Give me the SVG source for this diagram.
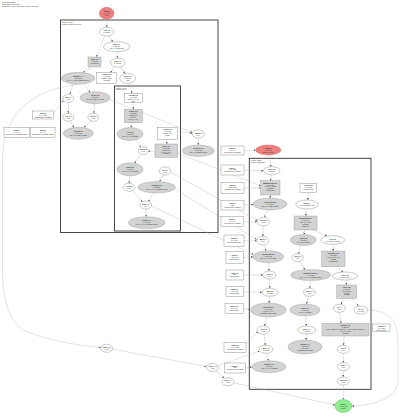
<svg xmlns="http://www.w3.org/2000/svg" width="400" height="418" viewBox="0 0 400 418">
<style>
text{font-family:"Liberation Sans",Arial,sans-serif;font-size:1.9px;fill:#333;text-anchor:middle}
.h{text-anchor:start}
.b{font-weight:bold}
.w{fill:#fff;stroke:#666;stroke-width:0.35}
.g{fill:#d3d3d3;stroke:#888;stroke-width:0.35}
.r{fill:#f08080;stroke:#b55;stroke-width:0.4}
.gn{fill:#90ee90;stroke:#4a4;stroke-width:0.4}
.cl{fill:none;stroke:#333;stroke-width:0.9}
#edges path{fill:none;stroke:#aaa;stroke-width:0.35;marker-end:url(#ah)}
</style>
<defs>
<marker id="ah" markerUnits="userSpaceOnUse" markerWidth="2" markerHeight="2" refX="2" refY="1" orient="auto"><path d="M0,0 L2,1 L0,2 z" fill="#555"/></marker>
</defs>
<rect width="400" height="418" fill="#fff"/>
<g id="header">
<text class="h" x="2" y="3">Execution graph</text>
<text class="h" x="2" y="5">Generated by profiler</text>
<text class="h" x="2" y="7">Total time: 12.34 ms, peak memory 1.2 MB</text>
</g>
<g id="clusters">
<rect class="cl" x="60.5" y="20" width="157.5" height="212.5"/>
<text class="h" x="62" y="22.8">cluster_main</text>
<text class="h" x="62" y="24.5">scope: main/loop_body</text>
<rect class="cl" x="114.5" y="86" width="66" height="145"/>
<text class="h" x="116" y="88.5">cluster_inner</text>
<text class="h" x="116" y="90.2">scope: inner</text>
<rect class="cl" x="249.3" y="158.3" width="121.7" height="231"/>
<text class="h" x="250.8" y="160.8">cluster_grad</text>
<text class="h" x="250.8" y="162.5">scope: gradients</text>
</g>
<g id="edges">
<path d="M106.7,19.3 L106.7,27.4"/>
<path d="M108.5,35.9 L113,41.8"/>
<path d="M104.5,35.8 L96.5,57"/>
<path d="M117,51.7 L117.5,58.2"/>
<path d="M92,67 L83,72.5"/>
<path d="M114.5,66.7 L110.5,72.7"/>
<path d="M120.5,66.8 L125,73.4"/>
<path d="M129.5,83.2 L132,93.3"/>
<path d="M73,84 L70,94.3"/>
<path d="M84,84 L90,92"/>
<path d="M53.3,113 L63.5,100.5"/>
<path d="M68.3,102.3 L68.3,113.3"/>
<path d="M94.5,103.7 L93.8,113.3"/>
<path d="M70,121.2 L74,127.5"/>
<path d="M91,121 L84,127.6"/>
<path d="M109.5,99.5 L192.5,132.5"/>
<path d="M198.3,138.3 L198.3,145"/>
<path d="M133.3,102.7 L133.3,109.3"/>
<path d="M132,122.7 L131,127.5"/>
<path d="M136,139.7 L140.5,147.3"/>
<path d="M167.7,139.3 L166.5,144"/>
<path d="M155,152 L148.3,151"/>
<path d="M140.8,154.3 L134.5,163.2"/>
<path d="M129.8,175.8 L129.2,183.3"/>
<path d="M163.5,175 L159.5,181.6"/>
<path d="M132.5,190.5 L142.5,201.8"/>
<path d="M153.5,193 L148.5,201.5"/>
<path d="M145.9,209 L146.3,216.7"/>
<path d="M177.7,131 L192.3,133.5"/>
<path d="M177.7,153 L260.7,186"/>
<path d="M171,172.5 L257.3,220.5"/>
<path d="M175,189 L256.7,239.5"/>
<path d="M151.7,206 L253.5,254.5"/>
<path d="M269,155 L271,166.7"/>
<path d="M271.2,174.7 L270.5,180.7"/>
<path d="M270.3,195 L270.2,198"/>
<path d="M308.3,192.7 L307.8,200"/>
<path d="M306.5,209 L305.8,216"/>
<path d="M267.5,210 L264.5,217.4"/>
<path d="M263.2,226 L262.9,236.4"/>
<path d="M264,245 L266,250.7"/>
<path d="M304.8,230 L304,234.5"/>
<path d="M313,230 L327,236"/>
<path d="M300.5,245.5 L298.5,253.7"/>
<path d="M333,244.3 L333.3,251"/>
<path d="M300,261.5 L305,269.7"/>
<path d="M337,266.7 L343,272"/>
<path d="M268.6,262.7 L269,271"/>
<path d="M310.4,280.5 L309.8,288.3"/>
<path d="M346,280 L346.5,285"/>
<path d="M269.5,279 L269.8,288.3"/>
<path d="M269.7,296.3 L269,303"/>
<path d="M308.5,296.3 L306.5,304"/>
<path d="M344,298.3 L341,304.3"/>
<path d="M352,298.3 L358.5,306"/>
<path d="M266.5,317 L264.5,326"/>
<path d="M305.5,316 L306.3,326"/>
<path d="M264,334 L265.3,345.3"/>
<path d="M306.5,334 L306,340"/>
<path d="M339.5,312.3 L341,323.3"/>
<path d="M344,336 L343.5,345.3"/>
<path d="M267,353.3 L268.3,360.7"/>
<path d="M343.3,353.3 L343.3,362.7"/>
<path d="M343.3,370.7 L343.3,377"/>
<path d="M343.3,385 L343.3,399.5"/>
<path d="M244,150.5 L255.8,150.2"/>
<path d="M244,170 L263.4,170.7"/>
<path d="M244,188 L260.7,188"/>
<path d="M244,205 L253.3,204.5"/>
<path d="M243.5,221.7 L257.3,221.7"/>
<path d="M244,240.8 L256.7,240.7"/>
<path d="M243.3,257.5 L253,256.9"/>
<path d="M243.3,275 L262.8,275"/>
<path d="M243.3,291.7 L262,292.3"/>
<path d="M243.3,308.3 L250.5,309.5"/>
<path d="M246,344 L258,331.5"/>
<path d="M218,365.5 L259.5,351"/>
<path d="M245.5,368 L252,367"/>
<path d="M76.7,84.5 C35,90 3,110 2.5,160 L2.5,270 C2.5,300 10,322 23,330 C45,340 75,345 100.7,347.5"/>
<path d="M112.7,349.2 L206.5,366.5"/>
<path d="M216,370.5 L224,378"/>
<path d="M234,383 L335,405"/>
<path d="M367.7,310 C392,311 398,322 398,345 L398,380 C398,398 375,405 352,406"/>
</g>
<g id="start"><ellipse class="r" cx="106.7" cy="13.3" rx="7.3" ry="6"/><text class="b" x="106.7" y="12">Start 0</text><text x="106.7" y="13.9">0.00 ms</text><text x="106.7" y="15.8">input</text></g>
<g id="a1"><ellipse class="w" cx="106.7" cy="31.7" rx="7.3" ry="4.3"/><text class="b" x="106.7" y="31.3">Add 1.0</text><text x="106.7" y="33.3">0.12 ms</text></g>
<g id="a2"><ellipse class="w" cx="116.7" cy="46.7" rx="13.3" ry="5"/><text class="b" x="116.7" y="45.4">Mul 1.1</text><text x="116.7" y="47.3">0.21 ms</text><text x="116.7" y="49.2">out: 1 x 128 float</text></g>
<g id="a3"><rect class="g" x="88" y="57" width="13" height="10"/><text class="b" x="94.5" y="59.8">Split 1.2</text><text x="94.5" y="61.7">0.05 ms</text><text x="94.5" y="63.6">2 outputs</text></g>
<g id="a4"><ellipse class="w" cx="117.7" cy="62.7" rx="7.3" ry="4.5"/><text class="b" x="117.7" y="62.3">Sub 1.3</text><text x="117.7" y="64.3">0.08 ms</text></g>
<g id="a5"><ellipse class="g" cx="78" cy="78.3" rx="16.7" ry="6"/><text class="b" x="78" y="77">MatMul 1.4</text><text x="78" y="78.9">1.24 ms</text><text x="78" y="80.8">out: 64 x 128 float32 tensor</text></g>
<g id="a6"><rect class="w" x="96.7" y="72.7" width="20" height="10.6"/><text class="b" x="106.7" y="75.3">Const 1.5</text><text x="106.7" y="77.2">0.01 ms</text><text x="106.7" y="79.1">shape [128]</text><text x="106.7" y="81">weights</text></g>
<g id="a7"><ellipse class="w" cx="127.7" cy="78.3" rx="8" ry="5"/><text class="b" x="127.7" y="77.4">Relu 1.6</text><text x="127.7" y="79.3">0.03 ms</text><text x="127.7" y="81.2">f32</text></g>
<g id="a8"><ellipse class="w" cx="68.3" cy="98.3" rx="5.5" ry="4"/><text class="b" x="68.3" y="97.9">Exp 1.7</text><text x="68.3" y="99.9">0.02</text></g>
<g id="a9"><ellipse class="g" cx="95" cy="97.7" rx="15" ry="6"/><text class="b" x="95" y="96.4">Conv 1.8</text><text x="95" y="98.3">0.87 ms</text><text x="95" y="100.2">out: 32 x 32 x 16 float</text></g>
<g id="a10"><ellipse class="w" cx="68.3" cy="117.3" rx="5.5" ry="4"/><text class="b" x="68.3" y="116.9">Log 1.9</text><text x="68.3" y="118.9">0.02</text></g>
<g id="a11"><ellipse class="w" cx="93.3" cy="117.3" rx="5.5" ry="4"/><text class="b" x="93.3" y="116.9">Neg 2.0</text><text x="93.3" y="118.9">0.01</text></g>
<g id="a12"><ellipse class="g" cx="78.3" cy="133.3" rx="15" ry="6"/><text class="b" x="78.3" y="132">Concat 2.1</text><text x="78.3" y="133.9">0.34 ms</text><text x="78.3" y="135.8">out: 64 x 256 float32</text></g>
<g id="a13"><ellipse class="w" cx="198.3" cy="134" rx="6" ry="4.3"/><text class="b" x="198.3" y="133.6">Max 2.2</text><text x="198.3" y="135.6">0.04</text></g>
<g id="a14"><ellipse class="g" cx="198.3" cy="150.7" rx="16" ry="5.7"/><text class="b" x="198.3" y="149.4">Reduce 2.3</text><text x="198.3" y="151.3">0.45 ms</text><text x="198.3" y="153.2">out: 64 float32 tensor</text></g>
<g id="b1"><rect class="w" x="124.3" y="93.3" width="18" height="9.4"/><text class="b" x="133.3" y="95.8">Param 3.0</text><text x="133.3" y="97.7">0.00 ms</text><text x="133.3" y="99.6">shape [64,64]</text><text x="133.3" y="101.5">bias</text></g>
<g id="b2"><rect class="g" x="124.3" y="109.3" width="18" height="13.4"/><text class="b" x="133.3" y="112.1">Gather 3.1</text><text x="133.3" y="114">0.22 ms</text><text x="133.3" y="115.9">indices 64</text><text x="133.3" y="117.8">axis 0</text><text x="133.3" y="119.7">out: 64 x 64</text></g>
<g id="b3"><ellipse class="g" cx="130" cy="134" rx="13" ry="6.5"/><text class="b" x="130" y="132.7">Add 3.2</text><text x="130" y="134.6">0.31 ms</text><text x="130" y="136.5">out: 64 x 64 float32</text></g>
<g id="b4"><rect class="w" x="157.7" y="127.7" width="20" height="11.6"/><text class="b" x="167.7" y="130.4">Const 3.3</text><text x="167.7" y="132.3">0.00 ms</text><text x="167.7" y="134.2">shape [64]</text><text x="167.7" y="136.1">scale</text></g>
<g id="b5"><rect class="g" x="155" y="144" width="22.7" height="13.3"/><text class="b" x="166.3" y="146.8">Scale 3.4</text><text x="166.3" y="148.7">0.18 ms</text><text x="166.3" y="150.6">factor 0.5</text><text x="166.3" y="152.5">out: 64 x 64</text><text x="166.3" y="154.4">float32</text></g>
<g id="b6"><ellipse class="w" cx="143.3" cy="150.7" rx="5" ry="4"/><text class="b" x="143.3" y="150.3">Mul 3.5</text><text x="143.3" y="152.3">0.03</text></g>
<g id="b7"><ellipse class="g" cx="130" cy="169.3" rx="13" ry="6.5"/><text class="b" x="130" y="168">Tanh 3.6</text><text x="130" y="169.9">0.27 ms</text><text x="130" y="171.8">out: 64 x 64 float32</text></g>
<g id="b8"><ellipse class="w" cx="165" cy="171" rx="6" ry="4"/><text class="b" x="165" y="170.6">Div 3.7</text><text x="165" y="172.6">0.02</text></g>
<g id="b9"><ellipse class="w" cx="129" cy="187.3" rx="6" ry="4"/><text class="b" x="129" y="186.9">Abs 3.8</text><text x="129" y="188.9">0.01</text></g>
<g id="b10"><ellipse class="g" cx="156.7" cy="187.3" rx="18.7" ry="5.7"/><text class="b" x="156.7" y="186">Softmax 3.9</text><text x="156.7" y="187.9">0.52 ms</text><text x="156.7" y="189.8">out: 64 x 64 float32 tensor</text></g>
<g id="b11"><ellipse class="w" cx="145.7" cy="205" rx="6" ry="4"/><text class="b" x="145.7" y="204.6">Sum 4.0</text><text x="145.7" y="206.6">0.04</text></g>
<g id="b12"><ellipse class="g" cx="146.7" cy="222.7" rx="18.3" ry="6"/><text class="b" x="146.7" y="221.4">Output 4.1</text><text x="146.7" y="223.3">0.09 ms</text><text x="146.7" y="225.2">out: 64 x 64 float32 tensor</text></g>
<g id="c1"><rect class="w" x="32.7" y="111" width="20.6" height="8"/><text class="b" x="43" y="113.9">Input 0</text><text x="43" y="115.8">64 x 128</text><text x="43" y="117.7">placeholder float32</text></g>
<g id="c2"><rect class="w" x="4" y="127.7" width="25.3" height="10"/><text class="b" x="16.6" y="130.8">Input 1</text><text x="16.6" y="132.7">64 x 64</text><text x="16.6" y="134.6">placeholder float32 tensor</text></g>
<g id="c3"><rect class="w" x="30.7" y="127.7" width="24.3" height="10"/><text class="b" x="42.8" y="130.8">Input 2</text><text x="42.8" y="132.7">64 x 64</text><text x="42.8" y="134.6">placeholder float32 tensor</text></g>
<g id="c4"><ellipse class="w" cx="106.7" cy="348.3" rx="6" ry="4"/><text class="b" x="106.7" y="347.9">Copy 4.2</text><text x="106.7" y="349.9">0.06</text></g>
<g id="d1"><rect class="w" x="221" y="146" width="23" height="9"/><text class="b" x="232.5" y="149">Input 3</text><text x="232.5" y="150.9">64 x 1</text><text x="232.5" y="152.8">placeholder float32</text></g>
<g id="d2"><rect class="w" x="221" y="165" width="23" height="10"/><text class="b" x="232.5" y="168.5">Input 4</text><text x="232.5" y="170.4">64 x 128</text><text x="232.5" y="172.3">placeholder float32</text></g>
<g id="d3"><rect class="w" x="221" y="182.7" width="23" height="10.6"/><text class="b" x="232.5" y="186.3">Input 5</text><text x="232.5" y="188.2">128 x 128</text><text x="232.5" y="190.1">placeholder float32</text></g>
<g id="d4"><rect class="w" x="221" y="200.7" width="23" height="9.3"/><text class="b" x="232.5" y="203.8">Input 6</text><text x="232.5" y="205.7">128</text><text x="232.5" y="207.6">placeholder float32</text></g>
<g id="d5"><rect class="w" x="221" y="216.7" width="22.5" height="10"/><text class="b" x="232.2" y="220.2">Input 7</text><text x="232.2" y="222.1">64 x 64</text><text x="232.2" y="224">placeholder float32</text></g>
<g id="d6"><rect class="w" x="224" y="235" width="20" height="11.7"/><text class="b" x="234" y="239.3">Input 8</text><text x="234" y="241.2">64 x 32</text><text x="234" y="243.1">placeholder float</text></g>
<g id="d7"><rect class="w" x="226" y="251.7" width="17.3" height="11.6"/><text class="b" x="234.6" y="255.9">Input 9</text><text x="234.6" y="257.8">32 x 32</text><text x="234.6" y="259.7">placeholder</text></g>
<g id="d8"><rect class="w" x="226" y="270" width="17.3" height="10"/><text class="b" x="234.6" y="273.5">Input 10</text><text x="234.6" y="275.4">32</text><text x="234.6" y="277.3">placeholder</text></g>
<g id="d9"><rect class="w" x="226" y="286.7" width="17.3" height="10"/><text class="b" x="234.6" y="290.2">Input 11</text><text x="234.6" y="292.1">64 x 32</text><text x="234.6" y="294">placeholder</text></g>
<g id="d10"><rect class="w" x="225" y="303.3" width="18.3" height="10"/><text class="b" x="234.1" y="306.8">Input 12</text><text x="234.1" y="308.7">64 x 64</text><text x="234.1" y="310.6">placeholder</text></g>
<g id="d11"><rect class="w" x="224" y="342.5" width="22" height="10"/><text class="b" x="235" y="346">Input 13</text><text x="235" y="347.9">64 x 128</text><text x="235" y="349.8">placeholder float32</text></g>
<g id="d12"><rect class="w" x="224.5" y="363" width="21" height="10"/><text class="b" x="235" y="366.5">Input 14</text><text x="235" y="368.4">128</text><text x="235" y="370.3">placeholder float32</text></g>
<g id="e1"><ellipse class="w" cx="212.5" cy="367.5" rx="6" ry="4"/><text class="b" x="212.5" y="367.1">Copy 4.3</text><text x="212.5" y="369.1">0.05</text></g>
<g id="e2"><ellipse class="w" cx="228" cy="381.7" rx="6" ry="4"/><text class="b" x="228" y="381.3">Sync 4.4</text><text x="228" y="383.3">0.02</text></g>
<g id="start2"><ellipse class="r" cx="268.3" cy="150" rx="12.5" ry="5"/><text class="b" x="268.3" y="148.7">Start 5</text><text x="268.3" y="150.6">0.00 ms</text><text x="268.3" y="152.5">gradient input</text></g>
<g id="f1"><ellipse class="w" cx="271.7" cy="170.7" rx="8.3" ry="4"/><text class="b" x="271.7" y="170.3">Grad 5.0</text><text x="271.7" y="172.3">0.03 ms</text></g>
<g id="f2"><rect class="g" x="260.7" y="180.7" width="19.3" height="14.3"/><text class="b" x="270.3" y="183.6">MatMulGrad 5.1</text><text x="270.3" y="185.5">1.02 ms</text><text x="270.3" y="187.4">out: 64 x 128</text><text x="270.3" y="189.3">float32</text><text x="270.3" y="191.2">transpose</text></g>
<g id="f3"><rect class="w" x="300" y="183.3" width="16.7" height="9.4"/><text class="b" x="308.3" y="186.4">Const 5.2</text><text x="308.3" y="188.3">0.00 ms</text><text x="308.3" y="190.2">learning rate</text></g>
<g id="f4"><ellipse class="g" cx="270" cy="204" rx="17" ry="6"/><text class="b" x="270" y="202.7">ReluGrad 5.3</text><text x="270" y="204.6">0.19 ms</text><text x="270" y="206.5">out: 64 x 128 float32</text></g>
<g id="f5"><ellipse class="w" cx="307" cy="204.5" rx="11.3" ry="4.5"/><text class="b" x="307" y="204.1">Cast 5.4</text><text x="307" y="206.1">0.01 ms f32 to f16</text></g>
<g id="f6"><rect class="g" x="294" y="216" width="23" height="14"/><text class="b" x="305.5" y="218.9">Broadcast 5.5</text><text x="305.5" y="220.8">0.14 ms</text><text x="305.5" y="222.7">out: 64 x 128</text><text x="305.5" y="224.6">float32</text><text x="305.5" y="226.5">dims 0,1</text></g>
<g id="f7"><ellipse class="w" cx="263.3" cy="221.7" rx="6" ry="4.3"/><text class="b" x="263.3" y="221.3">Sub 5.6</text><text x="263.3" y="223.3">0.02</text></g>
<g id="f8"><ellipse class="w" cx="262.7" cy="240.7" rx="6" ry="4.3"/><text class="b" x="262.7" y="240.3">Mul 5.7</text><text x="262.7" y="242.3">0.02</text></g>
<g id="f9"><ellipse class="g" cx="303.3" cy="240" rx="13" ry="5.5"/><text class="b" x="303.3" y="238.7">Sum 5.8</text><text x="303.3" y="240.6">0.11 ms</text><text x="303.3" y="242.5">out: 128 float32</text></g>
<g id="f10"><ellipse class="w" cx="332.7" cy="240" rx="12" ry="4.3"/><text class="b" x="332.7" y="239.6">Tile 5.9</text><text x="332.7" y="241.6">0.04 ms x 2 float</text></g>
<g id="f11"><ellipse class="g" cx="268.3" cy="256.7" rx="15.3" ry="6"/><text class="b" x="268.3" y="255.4">TanhGrad 6.0</text><text x="268.3" y="257.3">0.21 ms</text><text x="268.3" y="259.2">out: 64 x 64 float32</text></g>
<g id="f12"><ellipse class="w" cx="297.5" cy="257.7" rx="5.7" ry="4"/><text class="b" x="297.5" y="257.3">Neg 6.1</text><text x="297.5" y="259.3">0.01</text></g>
<g id="f13"><rect class="g" x="321.7" y="251" width="23.3" height="15.7"/><text class="b" x="333.3" y="254.2">Reshape 6.2</text><text x="333.3" y="256.1">0.02 ms</text><text x="333.3" y="258">out: 64 x 2 x 64</text><text x="333.3" y="259.9">float32</text><text x="333.3" y="261.8">contiguous</text></g>
<g id="f14"><ellipse class="w" cx="269.3" cy="275" rx="6.5" ry="4"/><text class="b" x="269.3" y="274.6">Add 6.3</text><text x="269.3" y="276.6">0.03</text></g>
<g id="f15"><ellipse class="g" cx="310.7" cy="275" rx="20" ry="5.5"/><text class="b" x="310.7" y="273.7">SoftmaxGrad 6.4</text><text x="310.7" y="275.6">0.48 ms</text><text x="310.7" y="277.5">out: 64 x 64 float32 tensor</text></g>
<g id="f16"><ellipse class="w" cx="345" cy="276" rx="12.8" ry="4"/><text class="b" x="345" y="275.6">Slice 6.5</text><text x="345" y="277.6">0.02 ms [0:64]</text></g>
<g id="f17"><ellipse class="w" cx="270" cy="292.3" rx="8" ry="4"/><text class="b" x="270" y="291.9">Mul 6.6</text><text x="270" y="293.9">0.04 ms</text></g>
<g id="f18"><ellipse class="w" cx="309.3" cy="292.3" rx="6" ry="4"/><text class="b" x="309.3" y="291.9">Exp 6.7</text><text x="309.3" y="293.9">0.02</text></g>
<g id="f19"><rect class="g" x="336.7" y="285" width="20" height="13.3"/><text class="b" x="346.7" y="287.8">Split 6.8</text><text x="346.7" y="289.7">0.06 ms</text><text x="346.7" y="291.6">2 outputs</text><text x="346.7" y="293.5">axis 1</text><text x="346.7" y="295.4">float32</text></g>
<g id="f20"><ellipse class="g" cx="268.3" cy="310" rx="17.8" ry="7"/><text class="b" x="268.3" y="307.8">AddGrad 6.9</text><text x="268.3" y="309.7">0.16 ms</text><text x="268.3" y="311.6">out: 64 x 64</text><text x="268.3" y="313.5">float32 tensor grad</text></g>
<g id="f21"><ellipse class="g" cx="305" cy="310" rx="15" ry="6"/><text class="b" x="305" y="308.7">Sum 7.0</text><text x="305" y="310.6">0.10 ms</text><text x="305" y="312.5">out: 64 float32</text></g>
<g id="f22"><ellipse class="w" cx="339.3" cy="308.3" rx="6" ry="4"/><text class="b" x="339.3" y="307.9">Id 7.1</text><text x="339.3" y="309.9">0.00</text></g>
<g id="f23"><ellipse class="w" cx="360.7" cy="310" rx="7" ry="4"/><text class="b" x="360.7" y="309.6">Id 7.2</text><text x="360.7" y="311.6">0.00 ms</text></g>
<g id="f24"><ellipse class="w" cx="263.3" cy="330" rx="6.5" ry="4"/><text class="b" x="263.3" y="329.6">Add 7.3</text><text x="263.3" y="331.6">0.03</text></g>
<g id="f25"><ellipse class="w" cx="306.7" cy="330" rx="9" ry="4"/><text class="b" x="306.7" y="329.6">Scale 7.4</text><text x="306.7" y="331.6">0.02 ms</text></g>
<g id="f26"><rect class="g" x="322" y="323.3" width="47" height="12.7"/><text class="b" x="345.5" y="326.3">Update 7.5</text><text x="345.5" y="328.2">0.33 ms</text><text x="345.5" y="330.1">apply gradient descent, lr 0.01, momentum 0.9</text><text x="345.5" y="332">out: 64 x 128</text><text x="345.5" y="333.9">float32</text></g>
<g id="f27"><ellipse class="w" cx="266" cy="349.3" rx="7" ry="4"/><text class="b" x="266" y="348.9">Mul 7.6</text><text x="266" y="350.9">0.03 ms</text></g>
<g id="f28"><ellipse class="g" cx="305" cy="347" rx="17" ry="7"/><text class="b" x="305" y="344.8">Update 7.7</text><text x="305" y="346.7">0.29 ms</text><text x="305" y="348.6">out: 128</text><text x="305" y="350.5">float32 bias update</text></g>
<g id="f29"><ellipse class="w" cx="343.3" cy="349.3" rx="6" ry="4"/><text class="b" x="343.3" y="348.9">Id 7.8</text><text x="343.3" y="350.9">0.00</text></g>
<g id="f30"><ellipse class="g" cx="269" cy="366.7" rx="17" ry="6"/><text class="b" x="269" y="365.4">Update 7.9</text><text x="269" y="367.3">0.21 ms</text><text x="269" y="369.2">out: 64 x 64 float32</text></g>
<g id="f31"><ellipse class="w" cx="343.3" cy="366.7" rx="6" ry="4"/><text class="b" x="343.3" y="366.3">Id 8.0</text><text x="343.3" y="368.3">0.00</text></g>
<g id="f32"><ellipse class="w" cx="343.3" cy="381" rx="6" ry="4"/><text class="b" x="343.3" y="380.6">Sync 8.1</text><text x="343.3" y="382.6">0.01</text></g>
<g id="g1"><rect class="w" x="372.7" y="324" width="17.3" height="7.7"/><text class="b" x="381.3" y="326.8">Output 9</text><text x="381.3" y="328.7">64 x 128</text><text x="381.3" y="330.6">placeholder</text></g>
<g id="end"><ellipse class="gn" cx="343.3" cy="406" rx="8.5" ry="6.5"/><text class="b" x="343.3" y="404.7">End 9</text><text x="343.3" y="406.6">12.34 ms</text><text x="343.3" y="408.5">output</text></g>
</svg>
